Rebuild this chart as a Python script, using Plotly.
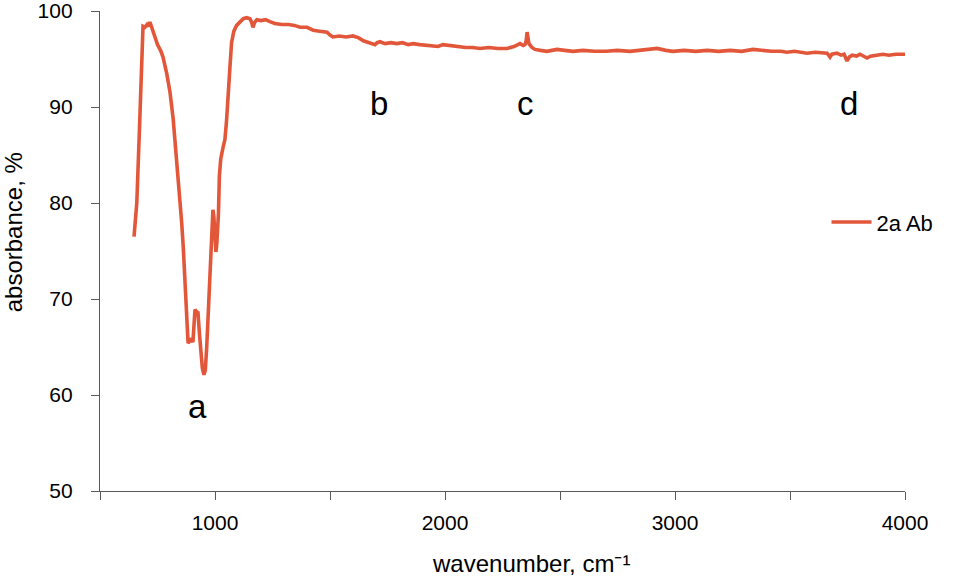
import plotly.graph_objects as go

wavenumber = [648, 660, 672, 682, 687, 695, 705, 712, 717, 722, 735, 750, 765, 774, 790, 804, 818, 830, 840, 848,
              855, 862, 868, 874, 879, 883, 890, 897, 904, 908, 913, 919, 926, 932, 938, 945, 952, 958, 964, 970,
              977, 983, 987, 991, 995, 1000, 1004, 1008, 1012, 1015, 1019, 1025, 1035, 1043, 1050, 1057, 1064, 1072,
              1082, 1094, 1108, 1123, 1138, 1152, 1158, 1165, 1172, 1182, 1200, 1220, 1239, 1260, 1291, 1320, 1345,
              1370, 1400, 1427, 1455, 1487, 1500, 1513, 1540, 1570, 1600, 1625, 1645, 1660, 1680, 1696, 1705, 1717,
              1740, 1765, 1790, 1815, 1840, 1861, 1890, 1920, 1948, 1970, 1991, 2020, 2052, 2090, 2120, 2152, 2190,
              2230, 2270, 2300, 2326, 2340, 2348, 2353, 2357, 2361, 2365, 2378, 2391, 2415, 2443, 2465, 2487, 2520,
              2557, 2600, 2650, 2700, 2750, 2804, 2850, 2890, 2922, 2960, 2991, 3040, 3090, 3140, 3190, 3240, 3290,
              3339, 3380, 3420, 3460, 3487, 3520, 3557, 3574, 3610, 3640, 3661, 3668, 3674, 3682, 3704, 3722, 3735,
              3748, 3758, 3770, 3790, 3804, 3820, 3835, 3850, 3870, 3904, 3930, 3960, 4000]
absorbance = [76.5, 80.0, 88.0, 96.0, 98.4, 98.3, 98.6, 98.4, 98.85, 98.5, 97.5, 96.5, 95.8, 95.2, 93.5, 91.6, 88.8, 85.5, 82.8, 80.3,
              78.0, 75.4, 72.0, 68.5, 66.5, 65.4, 65.6, 65.9, 65.5, 67.0, 68.9, 68.7, 68.6, 66.5, 64.5, 62.8, 62.1, 62.6, 65.0, 68.5,
              72.5, 75.4, 77.8, 79.3, 78.6, 76.5, 74.9, 75.8, 77.5, 78.9, 82.8, 84.6, 85.8, 86.6, 88.5, 90.7, 93.8, 96.7,
              97.9, 98.5, 98.9, 99.2, 99.3, 99.2, 98.9, 98.3, 98.8, 99.1, 99.0, 99.1, 98.9, 98.7, 98.6, 98.6, 98.5,
              98.3, 98.3, 98.0, 97.9, 97.8, 97.5, 97.3, 97.4, 97.3, 97.4, 97.2, 96.9, 96.8, 96.7, 96.5, 96.7, 96.8,
              96.6, 96.7, 96.6, 96.7, 96.5, 96.6, 96.5, 96.4, 96.4, 96.3, 96.5, 96.4, 96.3, 96.2, 96.2, 96.1, 96.2,
              96.1, 96.1, 96.3, 96.6, 96.4, 96.5, 96.9, 97.8, 96.9, 96.6, 96.2, 96.0, 95.9, 95.8, 95.9, 96.0, 95.9,
              95.8, 95.9, 95.8, 95.8, 95.9, 95.8, 95.9, 96.0, 96.1, 95.9, 95.8, 95.9, 95.8, 95.9, 95.8, 95.9, 95.8,
              96.0, 95.9, 95.8, 95.8, 95.7, 95.8, 95.7, 95.6, 95.7, 95.6, 95.6, 95.4, 95.2, 95.5, 95.6, 95.4, 95.5,
              94.8, 95.2, 95.4, 95.3, 95.5, 95.3, 95.1, 95.3, 95.4, 95.5, 95.4, 95.5, 95.5]

series_name = "2a Ab"
peak_labels = ["a", "b", "c", "d"]
peak_x = [922, 1713, 2352, 3757]
peak_y = [58.8, 90.4, 90.4, 90.4]

x_tickvals = [500, 1000, 1500, 2000, 2500, 3000, 3500, 4000]
x_ticktext = ["", "1000", "", "2000", "", "3000", "", "4000"]
y_tickvals = [50, 60, 70, 80, 90, 100]
x_title = "wavenumber, cm⁻¹"
y_title = "absorbance, %"

line_color = "#E2573A"
axis_color = "#595959"
font_family = "Liberation Sans, Arial, sans-serif"

fig = go.Figure()
fig.add_trace(go.Scatter(x=wavenumber, y=absorbance, mode="lines", name=series_name,
                         line=dict(color=line_color, width=3.6)))

for lab, px, py in zip(peak_labels, peak_x, peak_y):
    fig.add_annotation(x=px, y=py, text=lab, showarrow=False,
                       font=dict(size=33, color="#000000", family=font_family))

# axis titles
fig.add_annotation(xref="paper", yref="paper", x=0.535, y=-0.15, text=x_title, showarrow=False,
                   xanchor="center", yanchor="middle", font=dict(size=24, family=font_family))
fig.add_annotation(xref="paper", yref="paper", x=-0.1075, y=0.54, text=y_title, showarrow=False,
                   textangle=-90, xanchor="center", yanchor="middle", font=dict(size=24, family=font_family))

fig.update_layout(
    width=958, height=582,
    margin=dict(l=100, r=53, t=11, b=91, autoexpand=False),
    paper_bgcolor="white", plot_bgcolor="white",
    font=dict(family=font_family, color="#000000", size=21),
    showlegend=True,
    legend=dict(x=0.9025, y=0.56, xanchor="left", yanchor="middle",
                font=dict(size=22, family=font_family), bgcolor="rgba(0,0,0,0)",
                itemwidth=40),
    xaxis=dict(range=[500, 4000], tickvals=x_tickvals, ticktext=x_ticktext,
               ticks="outside", ticklen=8, tickcolor=axis_color, tickwidth=1.3,
               showline=True, linecolor=axis_color, linewidth=1.3,
               showgrid=False, zeroline=False, automargin=False,
               tickfont=dict(size=21), ticklabelstandoff=5, ticklabeloverflow="allow"),
    yaxis=dict(range=[50, 100], tickvals=y_tickvals,
               ticks="outside", ticklen=8, tickcolor=axis_color, tickwidth=1.3,
               showline=True, linecolor=axis_color, linewidth=1.3,
               showgrid=False, zeroline=False, automargin=False,
               tickfont=dict(size=21), ticklabelstandoff=14, ticklabeloverflow="allow"),
)

fig.write_html("out.html", config={"displayModeBar": False},
               post_script="document.body.style.margin='0px';")
